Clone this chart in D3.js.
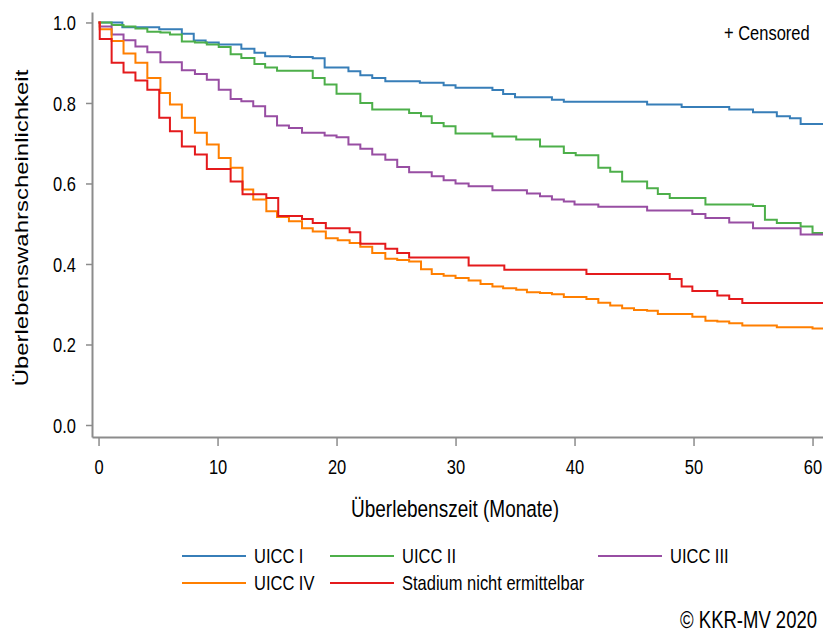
<!DOCTYPE html>
<html><head><meta charset="utf-8">
<script src="https://cdn.jsdelivr.net/npm/d3@7"></script>
<style>html,body{margin:0;padding:0;background:#fff;} svg{display:block;font-family:"Liberation Sans",Arial,sans-serif;}</style>
</head><body><svg id="c" width="823" height="634"></svg>
<script>
const seriesNames = ["UICC I", "UICC II", "UICC III", "UICC IV", "Stadium nicht ermittelbar"];
const seriesColors = ["#377eb8", "#4daf4a", "#984ea3", "#ff7f00", "#e41a1c"];
const xTicks = [0, 10, 20, 30, 40, 50, 60];
const yTicks = [0.0, 0.2, 0.4, 0.6, 0.8, 1.0];
const endTime = 60.9;

const timeI = [0, 2.0, 5.1, 7.0, 8.0, 9.0, 10.1, 12.0, 13.1, 14.0, 16.1, 18.0, 19.0, 21.0, 22.0, 23.0, 24.1, 27.0, 29.0, 30.0, 33.1, 34.0, 35.0, 38.1, 39.1, 46.1, 49.0, 53.0, 55.0, 57.0, 58.1, 59.0];
const survI = [1.0, 0.988, 0.983, 0.972, 0.955, 0.950, 0.945, 0.935, 0.925, 0.916, 0.914, 0.911, 0.888, 0.879, 0.869, 0.862, 0.854, 0.850, 0.844, 0.838, 0.832, 0.822, 0.814, 0.808, 0.803, 0.796, 0.790, 0.784, 0.777, 0.767, 0.762, 0.748];

const timeII = [0, 1.1, 2.1, 3.1, 4.1, 5.2, 6.0, 7.0, 8.1, 9.1, 10.1, 11.1, 12.0, 13.1, 14.0, 15.0, 18.0, 19.0, 20.0, 22.0, 23.0, 26.1, 27.1, 28.0, 29.0, 30.0, 33.1, 35.1, 37.1, 39.1, 40.1, 42.0, 43.0, 44.0, 46.1, 47.0, 48.0, 51.0, 55.0, 56.0, 57.0, 59.0, 60.0];
const survII = [1.0, 0.994, 0.990, 0.985, 0.977, 0.975, 0.970, 0.953, 0.950, 0.945, 0.939, 0.921, 0.912, 0.897, 0.888, 0.880, 0.862, 0.846, 0.823, 0.800, 0.784, 0.775, 0.767, 0.750, 0.742, 0.724, 0.717, 0.709, 0.692, 0.676, 0.670, 0.639, 0.629, 0.605, 0.588, 0.574, 0.564, 0.548, 0.544, 0.510, 0.502, 0.493, 0.477];

const timeIII = [0, 0.1, 1.1, 2.1, 3.1, 4.1, 5.2, 7.0, 8.1, 9.1, 10.1, 11.1, 12.0, 13.0, 14.0, 15.0, 16.0, 17.1, 19.0, 20.0, 21.0, 22.0, 23.0, 24.1, 25.1, 26.1, 28.0, 29.0, 30.0, 31.1, 33.1, 36.0, 37.1, 38.1, 39.1, 40.0, 42.0, 46.1, 49.9, 51.0, 53.0, 55.0, 59.0];
const survIII = [1.0, 0.990, 0.970, 0.956, 0.940, 0.926, 0.901, 0.881, 0.872, 0.858, 0.833, 0.810, 0.804, 0.792, 0.767, 0.744, 0.738, 0.726, 0.719, 0.715, 0.697, 0.686, 0.672, 0.659, 0.641, 0.628, 0.618, 0.608, 0.600, 0.593, 0.583, 0.575, 0.568, 0.560, 0.555, 0.548, 0.542, 0.533, 0.524, 0.514, 0.503, 0.489, 0.473];

const timeIV = [0, 0.1, 1.1, 2.1, 3.1, 4.1, 5.2, 6.0, 7.0, 8.1, 9.1, 10.1, 11.1, 12.1, 13.0, 14.1, 15.0, 16.0, 17.1, 18.0, 19.1, 20.1, 21.1, 22.0, 23.0, 24.1, 25.1, 26.1, 27.1, 28.0, 29.0, 30.0, 31.1, 32.1, 33.1, 34.0, 35.1, 36.0, 37.1, 38.1, 39.1, 41.0, 42.0, 43.0, 44.0, 45.0, 46.1, 47.0, 49.9, 51.0, 52.0, 53.0, 54.1, 57.0, 60.0];
const survIV = [1.0, 0.983, 0.954, 0.923, 0.900, 0.862, 0.825, 0.796, 0.763, 0.726, 0.697, 0.663, 0.639, 0.585, 0.560, 0.531, 0.517, 0.506, 0.489, 0.481, 0.464, 0.459, 0.452, 0.443, 0.427, 0.413, 0.410, 0.406, 0.387, 0.375, 0.371, 0.365, 0.359, 0.350, 0.344, 0.340, 0.336, 0.330, 0.328, 0.325, 0.318, 0.313, 0.304, 0.297, 0.290, 0.286, 0.284, 0.276, 0.269, 0.259, 0.257, 0.253, 0.247, 0.243, 0.240];

const timeNE = [0, 0.1, 1.1, 2.1, 3.1, 4.1, 5.1, 6.0, 7.0, 8.1, 9.1, 11.1, 12.1, 14.1, 15.1, 17.1, 18.0, 19.1, 21.1, 22.0, 24.1, 25.1, 26.1, 31.1, 34.1, 41.0, 48.0, 49.0, 49.9, 52.0, 53.0, 54.1];
const survNE = [1.0, 0.959, 0.900, 0.876, 0.856, 0.833, 0.763, 0.730, 0.692, 0.672, 0.636, 0.605, 0.573, 0.564, 0.519, 0.512, 0.502, 0.489, 0.479, 0.450, 0.438, 0.427, 0.416, 0.396, 0.386, 0.375, 0.363, 0.344, 0.333, 0.322, 0.313, 0.303];

const seriesTimes = [timeI, timeII, timeIII, timeIV, timeNE];
const seriesSurv = [survI, survII, survIII, survIV, survNE];

const K = 1.26; // vertical text stretch
const svg = d3.select("#c");
const x = d3.scaleLinear().domain([-0.55, 60.88]).range([92, 823]);
const y = d3.scaleLinear().domain([-0.0298, 1.026]).range([437, 12]);
const axisColor = "#8c8c8c";

// y axis
const gy = svg.append("g").attr("transform", "translate(92,0)")
  .call(d3.axisLeft(y).tickValues(yTicks).tickFormat(d3.format(".1f")).tickSize(6).tickPadding(10).tickSizeOuter(0));
gy.select(".domain").attr("stroke", axisColor).attr("stroke-width", 2);
gy.selectAll(".tick line").attr("stroke", axisColor).attr("stroke-width", 1.5);
gy.selectAll(".tick text").attr("fill", "#000").attr("font-size", 16.5)
  .attr("dy", null).attr("x", null)
  .attr("transform", `translate(-16,${0.36 * 16.5 * K}) scale(1,${K})`);

// x axis
const gx = svg.append("g").attr("transform", "translate(0,437)")
  .call(d3.axisBottom(x).tickValues(xTicks).tickFormat(d3.format("d")).tickSize(9).tickSizeOuter(0));
gx.select(".domain").attr("stroke", axisColor).attr("stroke-width", 2);
gx.selectAll(".tick line").attr("stroke", axisColor).attr("stroke-width", 1.5);
gx.selectAll(".tick text").attr("fill", "#000").attr("font-size", 16.5)
  .attr("dy", null).attr("y", null)
  .attr("transform", `translate(0,37) scale(1,${K})`);

// curves
const line = d3.line().curve(d3.curveStepAfter).x(d => x(d[0])).y(d => y(d[1]));
seriesNames.forEach((name, i) => {
  const pts = seriesTimes[i].map((t, j) => [t, seriesSurv[i][j]]);
  pts.push([endTime, seriesSurv[i][seriesSurv[i].length - 1]]);
  svg.append("path").datum(pts).attr("d", line)
    .attr("fill", "none").attr("stroke", seriesColors[i]).attr("stroke-width", 2);
});

function stretchedText(tx, ty, str, size, anchor) {
  return svg.append("text").attr("font-size", size).attr("text-anchor", anchor || "start")
    .attr("fill", "#000")
    .attr("transform", `translate(${tx},${ty}) scale(1,${K})`).text(str);
}

// axis titles
stretchedText(455, 517, "Überlebenszeit (Monate)", 19, "middle");
svg.append("text").attr("font-size", 19).attr("text-anchor", "middle").attr("fill", "#000")
  .attr("transform", `translate(28,228) rotate(-90) scale(${K},1)`).text("Überlebenswahrscheinlichkeit");

// censored note
stretchedText(724, 40, "+ Censored", 16.5, "start");

// legend
const legendCols = [182, 330, 598];
const legendRows = [556, 583];
const legendSlots = [[0, 0], [1, 0], [2, 0], [0, 1], [1, 1]];
seriesNames.forEach((name, i) => {
  const lx = legendCols[legendSlots[i][0]], ly = legendRows[legendSlots[i][1]];
  svg.append("line").attr("x1", lx).attr("x2", lx + 64).attr("y1", ly).attr("y2", ly)
    .attr("stroke", seriesColors[i]).attr("stroke-width", 2);
  stretchedText(lx + 72, ly + 0.36 * 16.5 * K, name, 16.5, "start");
});

// copyright
stretchedText(817, 628, "© KKR-MV 2020", 18.5, "end");
</script></body></html>
